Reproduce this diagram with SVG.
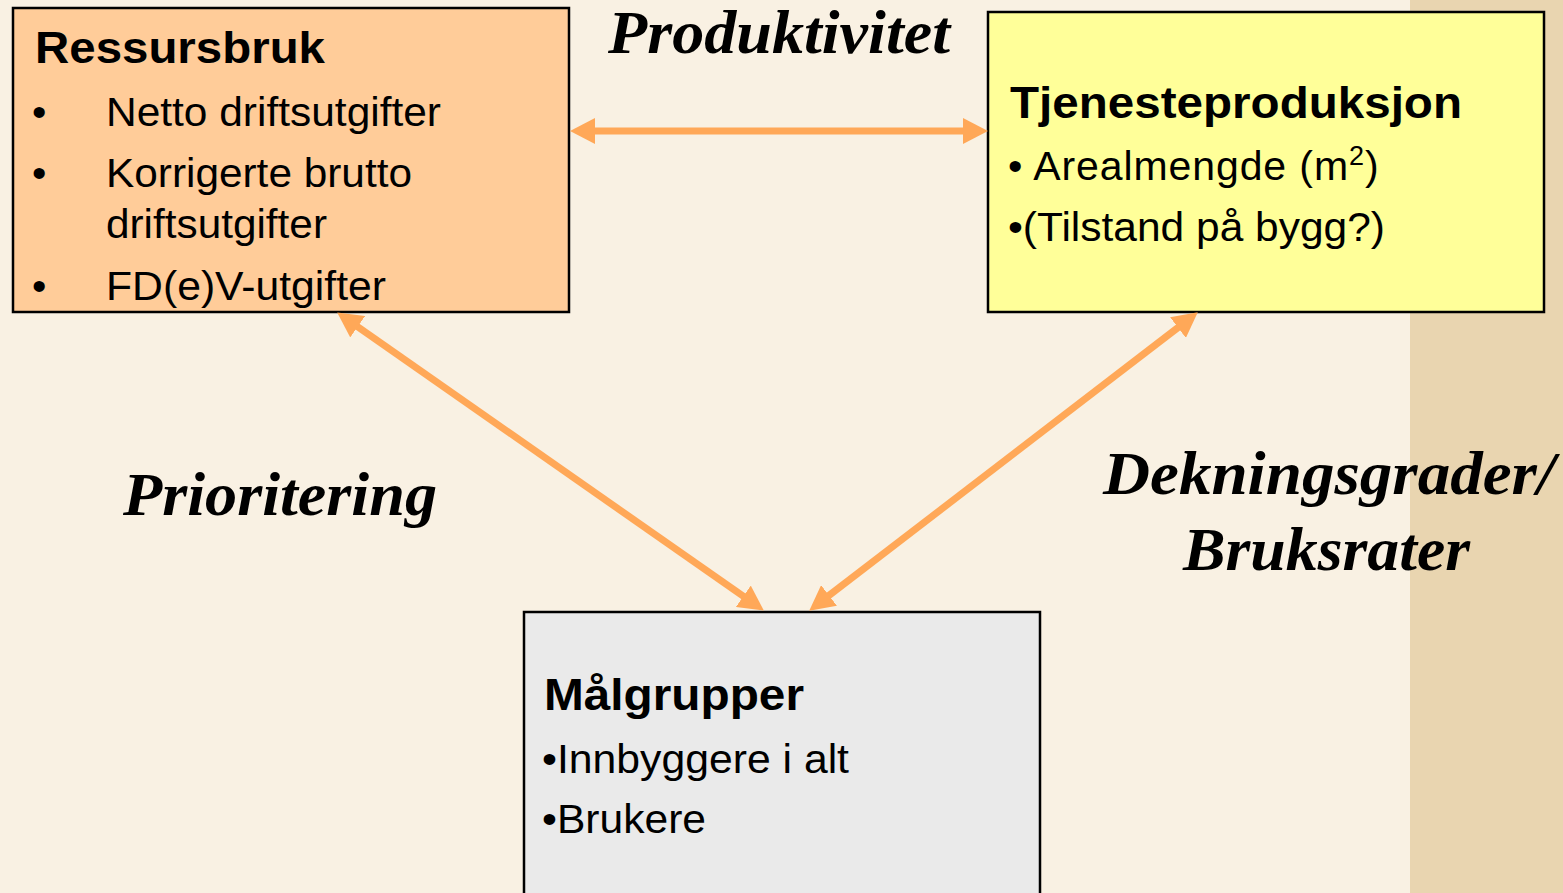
<svg xmlns="http://www.w3.org/2000/svg" width="1563" height="893" viewBox="0 0 1563 893">
<style>
.box{stroke:#000;stroke-width:2.5}
.h{font-family:"Liberation Sans",Arial,sans-serif;font-weight:bold;font-size:45px;fill:#000}
.t{font-family:"Liberation Sans",Arial,sans-serif;font-size:41px;fill:#000}
.lbl{font-family:"Liberation Serif","Times New Roman",serif;font-weight:bold;font-style:italic;font-size:62px;fill:#000}
.conn{stroke:#FFA858;stroke-width:7;fill:none}
</style>
<defs>
<marker id="ah" markerUnits="userSpaceOnUse" markerWidth="25" markerHeight="26" refX="9" refY="13" orient="auto-start-reverse">
<path d="M0,0 L25,13 L0,26 Z" fill="#FFA858"/>
</marker>
</defs>
<rect x="0" y="0" width="1563" height="893" fill="#F9F1E3"/>
<rect x="1410" y="0" width="153" height="893" fill="#E9D5B0"/>
<g id="ressursbruk">
<rect class="box" x="13" y="8" width="556" height="304" fill="#FFCC99"/>
<text class="h" x="35" y="63" textLength="290" lengthAdjust="spacingAndGlyphs">Ressursbruk</text>
<text class="t" x="32" y="126">•</text>
<text class="t" x="106" y="126" textLength="335" lengthAdjust="spacingAndGlyphs">Netto driftsutgifter</text>
<text class="t" x="32" y="187">•</text>
<text class="t" x="106" y="187" textLength="306" lengthAdjust="spacingAndGlyphs">Korrigerte brutto</text>
<text class="t" x="106" y="238" textLength="221" lengthAdjust="spacingAndGlyphs">driftsutgifter</text>
<text class="t" x="32" y="300">•</text>
<text class="t" x="106" y="300" textLength="280" lengthAdjust="spacingAndGlyphs">FD(e)V-utgifter</text>
</g>
<g id="tjenesteproduksjon">
<rect class="box" x="988" y="12" width="556" height="300" fill="#FFFF99"/>
<text class="h" x="1010" y="118" textLength="452" lengthAdjust="spacingAndGlyphs">Tjenesteproduksjon</text>
<text class="t" x="1008" y="180" letter-spacing="0.9">• Arealmengde (m<tspan font-size="27" dy="-15">2</tspan><tspan dy="15">)</tspan></text>
<text class="t" x="1008" y="241" textLength="377" lengthAdjust="spacingAndGlyphs">•(Tilstand på bygg?)</text>
</g>
<g id="malgrupper">
<rect class="box" x="524" y="612" width="516" height="300" fill="#EAEAEA"/>
<text class="h" x="544" y="710" textLength="260" lengthAdjust="spacingAndGlyphs">Målgrupper</text>
<text class="t" x="542" y="773" textLength="307" lengthAdjust="spacingAndGlyphs">•Innbyggere i alt</text>
<text class="t" x="542" y="833" textLength="164" lengthAdjust="spacingAndGlyphs">•Brukere</text>
</g>
<g id="labels">
<text class="lbl" x="608" y="53" font-size="60" textLength="342" lengthAdjust="spacingAndGlyphs">Produktivitet</text>
<text class="lbl" x="123" y="515" textLength="314" lengthAdjust="spacingAndGlyphs">Prioritering</text>
<text class="lbl" x="1103" y="494" textLength="452" lengthAdjust="spacingAndGlyphs">Dekningsgrader/</text>
<text class="lbl" x="1183" y="570" textLength="287" lengthAdjust="spacingAndGlyphs">Bruksrater</text>
</g>
<g id="connectors">
<line class="conn" x1="586" y1="131" x2="972" y2="131" marker-start="url(#ah)" marker-end="url(#ah)"/>
<line class="conn" x1="350.3" y1="321.6" x2="750.7" y2="601.4" marker-start="url(#ah)" marker-end="url(#ah)"/>
<line class="conn" x1="1185.1" y1="322.1" x2="821.9" y2="600.9" marker-start="url(#ah)" marker-end="url(#ah)"/>
</g>
</svg>
